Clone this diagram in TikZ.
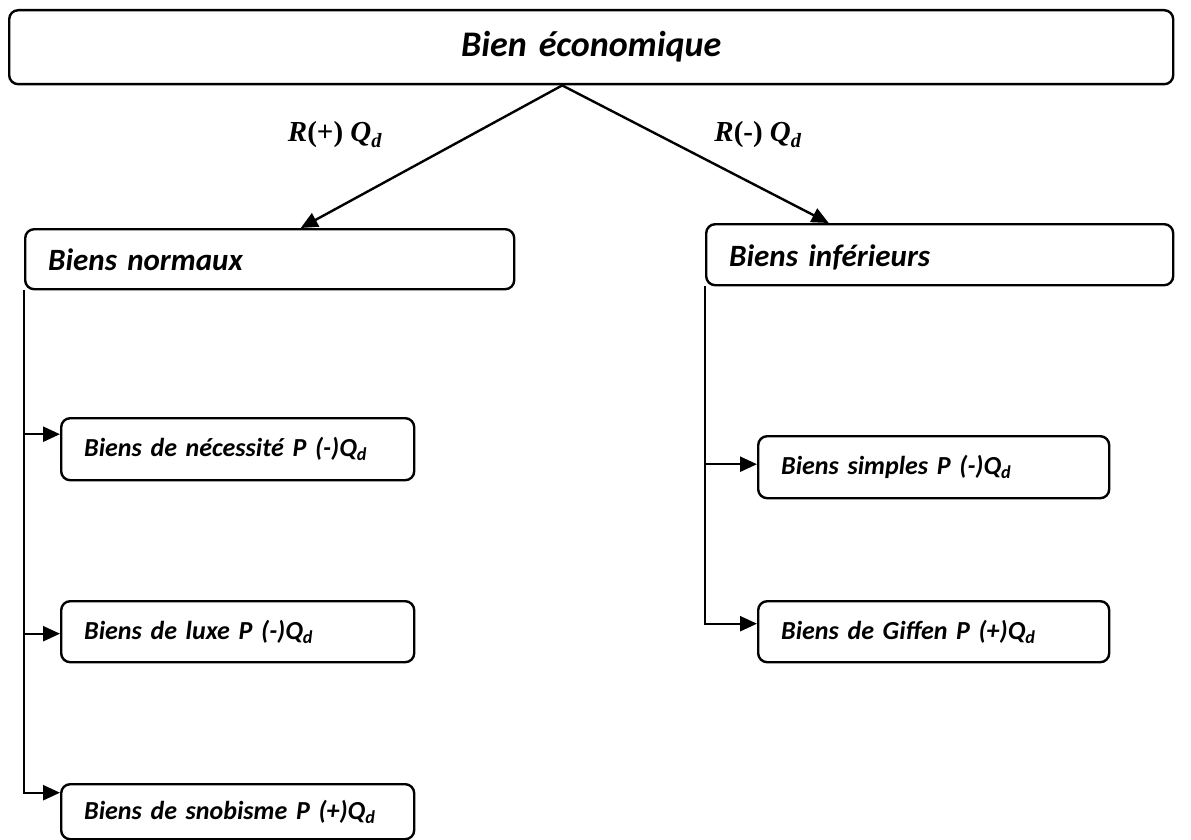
\documentclass[tikz,border=0pt]{standalone}
\usepackage{fontspec}
\setmainfont[WordSpace=0.75]{Carlito}
\newfontfamily\labfont{Liberation Serif}
\usetikzlibrary{arrows.meta,positioning,calc}

\begin{document}
\begin{tikzpicture}[x=1pt,y=-1pt,
  box/.style={draw,line width=2.4pt,rounded corners=9pt,anchor=north west,align=left,inner xsep=23pt,inner ysep=0pt,font=\bfseries\itshape\fontsize{26}{30}\selectfont},
  head/.style={box,text height=23pt,text depth=0pt,font=\bfseries\itshape\fontsize{31}{36}\selectfont},
  arr/.style={-{Triangle[length=17pt,width=15pt]},line width=2.4pt},
  lab/.style={font=\labfont\bfseries\itshape\fontsize{29}{32}\selectfont,anchor=base}]
  \useasboundingbox (0,0) rectangle (1191,840);
  \node[box,align=center,inner xsep=0pt,text width=1164pt,minimum height=74pt,font=\bfseries\itshape\fontsize{36}{40}\selectfont] (top) at (8,9) {Bien économique};
  \node[head,text width=443pt,minimum height=60pt] (norm) at (24,228) {Biens normaux};
  \node[head,text width=421pt,minimum height=61pt] (inf) at (705,223) {Biens inférieurs};
  \node[box,text width=307pt,minimum height=62pt] (nec) at (60,417) {Biens de nécessité P (-)Q\textsubscript{d}};
  \node[box,text width=307pt,minimum height=61pt] (lux) at (60,600) {Biens de luxe P (-)Q\textsubscript{d}};
  \node[box,text width=307pt,minimum height=55pt] (snob) at (60,783) {Biens de snobisme P (+)Q\textsubscript{d}};
  \node[box,text width=305pt,minimum height=62pt] (simp) at (757,435) {Biens simples P (-)Q\textsubscript{d}};
  \node[box,text width=305pt,minimum height=61pt] (giff) at (757,600) {Biens de Giffen P (+)Q\textsubscript{d}};
  \node[lab] (rplus) at (335,142) {R\textup{(+)} Q\textsubscript{d}};
  \node[lab] (rminus) at (758,142) {R\textup{(-)} Q\textsubscript{d}};
  \coordinate (apex) at ([xshift=-29pt]top.south);
  \coordinate (necin) at ([yshift=15pt]nec.west);
  \coordinate (luxin) at ([yshift=-2pt]lux.west);
  \coordinate (snobin) at ([yshift=19pt]snob.west);
  \coordinate (simpin) at ([yshift=3pt]simp.west);
  \coordinate (giffin) at ([yshift=8pt]giff.west);
  \draw[arr] (apex) -- ([xshift=31pt]norm.north);
  \draw[arr] (apex) -- ([xshift=-111pt]inf.north);
  \draw[arr] (norm.south west) |- (snobin);
  \draw[arr] (norm.south west |- necin) -- (necin);
  \draw[arr] (norm.south west |- luxin) -- (luxin);
  \draw[arr] (inf.south west) |- (giffin);
  \draw[arr] (inf.south west |- simpin) -- (simpin);
\end{tikzpicture}
\end{document}
